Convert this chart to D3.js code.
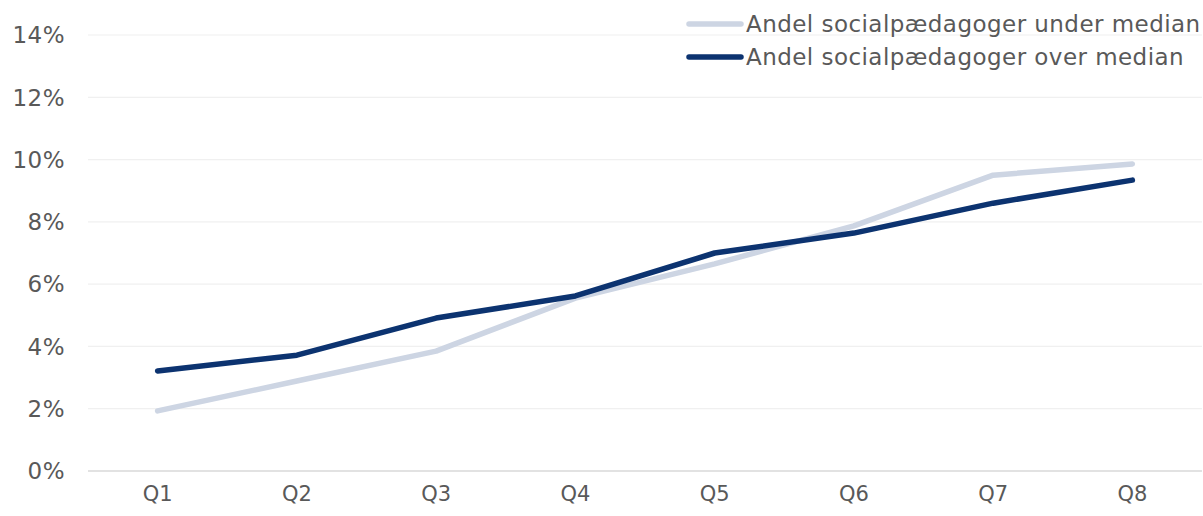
<!DOCTYPE html>
<html>
<head>
<meta charset="utf-8">
<script src="https://cdn.jsdelivr.net/npm/d3@7"></script>
<style>
  body { margin: 0; background: #fff; }
  svg text { font-family: "DejaVu Sans", Verdana, sans-serif; fill: #595959; }
</style>
</head>
<body>
<div id="chart"></div>
<script>
// --- Data ---
const quarters = ["Q1", "Q2", "Q3", "Q4", "Q5", "Q6", "Q7", "Q8"];
const underMedian = [1.93, 2.89, 3.85, 5.55, 6.65, 7.87, 9.5, 9.86];
const overMedian = [3.21, 3.72, 4.91, 5.62, 7.0, 7.64, 8.6, 9.34];
const yTicks = [0, 2, 4, 6, 8, 10, 12, 14];
const seriesNames = ["Andel socialpædagoger under median", "Andel socialpædagoger over median"];
const seriesColors = ["#cdd5e3", "#0c3370"];

const width = 1203, height = 516;
const margin = { top: 35, right: 1, bottom: 45, left: 88 };

const svg = d3.select("#chart").append("svg")
  .attr("width", width)
  .attr("height", height);

const x = d3.scalePoint()
  .domain(quarters)
  .range([margin.left, width - margin.right])
  .padding(0.5);

const y = d3.scaleLinear()
  .domain([0, 14])
  .range([height - margin.bottom, margin.top]);

// Gridlines
svg.append("g")
  .selectAll("line")
  .data(yTicks)
  .join("line")
    .attr("x1", margin.left)
    .attr("x2", width - margin.right)
    .attr("y1", d => y(d))
    .attr("y2", d => y(d))
    .attr("stroke", d => d === 0 ? "#d9d9d9" : "#f0f0f0")
    .attr("stroke-width", d => d === 0 ? 1.5 : 1.2);

// Y labels
svg.append("g")
  .selectAll("text")
  .data(yTicks)
  .join("text")
    .attr("x", 65)
    .attr("y", d => y(d))
    .attr("dy", "0.36em")
    .attr("text-anchor", "end")
    .style("font-size", "23px")
    .style("letter-spacing", "0.5px")
    .text(d => d + "%");

// X labels
svg.append("g")
  .selectAll("text")
  .data(quarters)
  .join("text")
    .attr("x", d => x(d))
    .attr("y", 501)
    .attr("text-anchor", "middle")
    .style("font-size", "21px")
    .text(d => d);

// Lines
const line = d3.line()
  .x((d, i) => x(quarters[i]))
  .y(d => y(d));

[underMedian, overMedian].forEach((vals, i) => {
  svg.append("path")
    .datum(vals)
    .attr("fill", "none")
    .attr("stroke", seriesColors[i])
    .attr("stroke-width", 5.5)
    .attr("stroke-linecap", "round")
    .attr("stroke-linejoin", "round")
    .attr("d", line);
});

// Legend
const legend = svg.append("g");
seriesNames.forEach((name, i) => {
  const ly = 24 + i * 33;
  legend.append("line")
    .attr("x1", 689).attr("x2", 741)
    .attr("y1", ly).attr("y2", ly)
    .attr("stroke", seriesColors[i])
    .attr("stroke-width", 5.5)
    .attr("stroke-linecap", "round");
  legend.append("text")
    .attr("x", 746)
    .attr("y", ly)
    .attr("dy", "0.36em")
    .style("font-size", "23px")
    .style("letter-spacing", "0.45px")
    .text(name);
});
</script>
</body>
</html>
